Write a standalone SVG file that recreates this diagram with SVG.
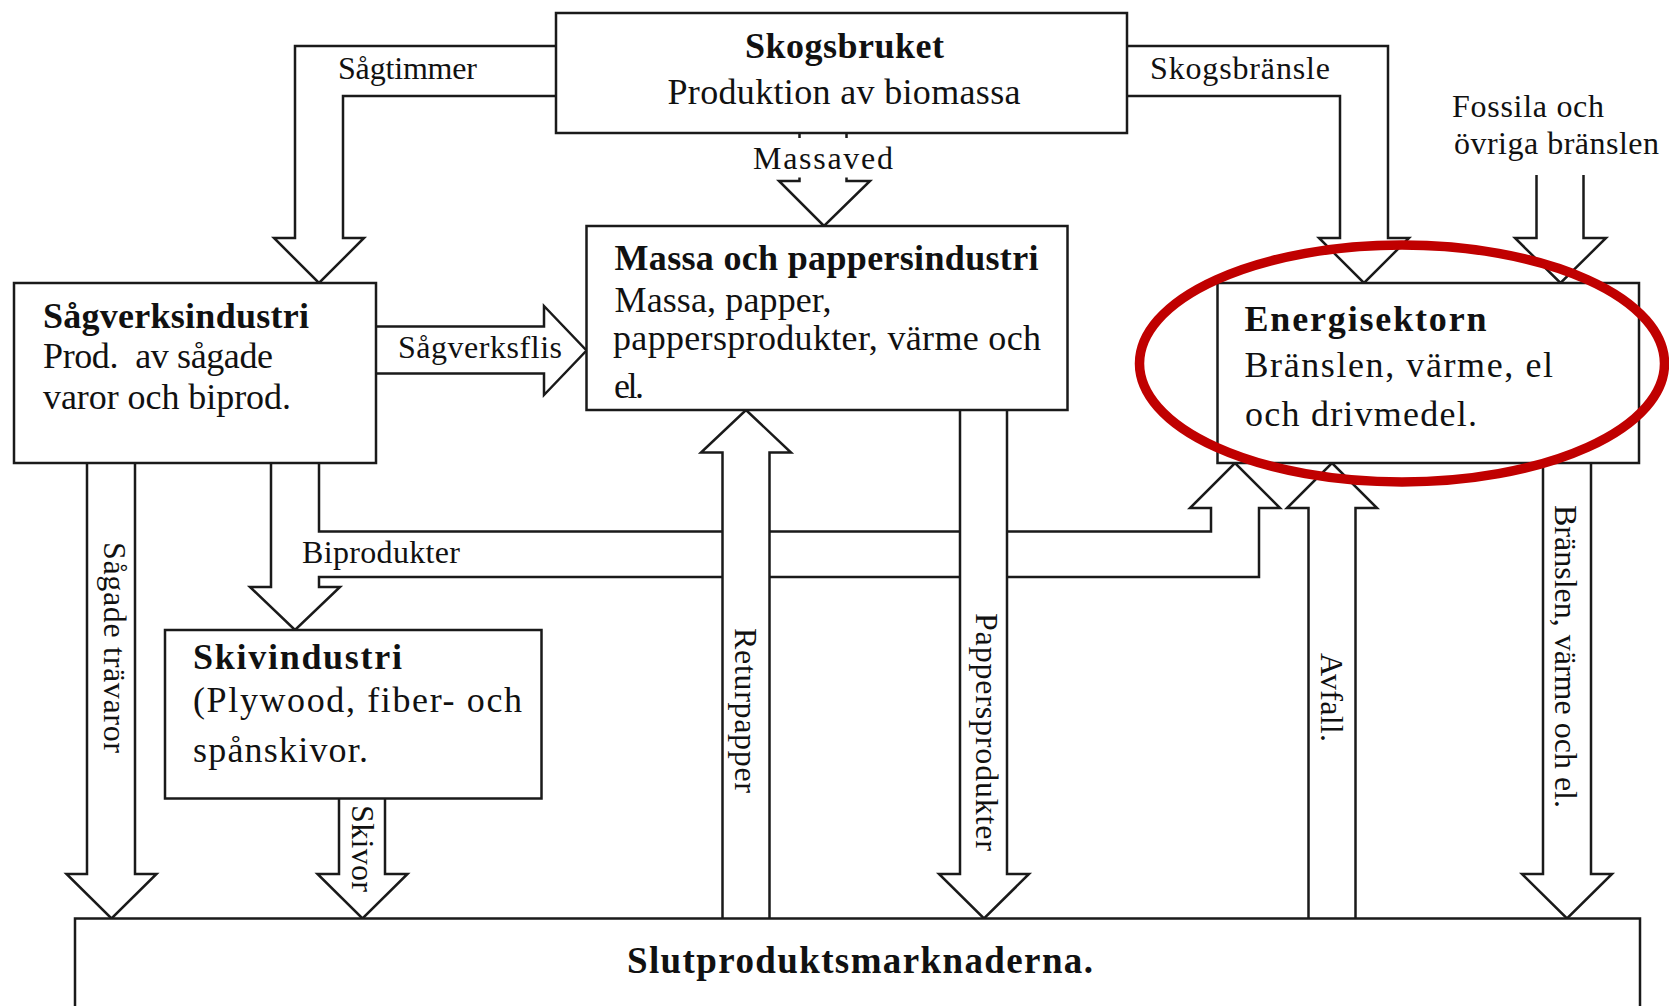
<svg xmlns="http://www.w3.org/2000/svg" width="1669" height="1006" viewBox="0 0 1669 1006">
<style>
.box{fill:#fff;stroke:#1a1a1a;stroke-width:2.5}
.arr{fill:#fff;stroke:#1a1a1a;stroke-width:2.5;stroke-linejoin:miter}
.stub{fill:none;stroke:#1a1a1a;stroke-width:2.5}
text{font-family:"Liberation Serif","Times New Roman",serif;fill:#111;white-space:pre}
.body{font-size:36px}
.title{font-size:36px;font-weight:bold}
.lbl{font-size:32px}
</style>
<rect width="1669" height="1006" fill="#fff"/>
<g id="connectors">
  <path id="c-sagtimmer" class="arr" d="M556,46 H295 V238 H274 L319,283 L364,238 H343 V96 H556"/>
  <path id="c-skogsbransle" class="arr" d="M1127,46 H1388 V238 H1409 L1364,283 L1319,238 H1340 V96 H1127"/>
  <path id="c-massaved-stub" class="stub" d="M799.5,133 V138 M846.5,133 V138"/>
  <path id="c-massaved" class="arr" d="M799.5,177.5 V181 H779 L824,226 L870,181 H846.5 V177.5"/>
  <path id="c-fossila" class="arr" d="M1536.5,175 V238 H1515 L1560.5,283 L1606,238 H1583.5 V175"/>
  <path id="c-sagverksflis" class="arr" d="M376,326.5 H544 V306 L586.5,350.5 L544,395 V373.5 H376"/>
  <path id="c-biprodukter" class="arr" d="M271,463 V587 H250 L295,630 L340,587 H319 V577 H1259 V508 H1280 L1235,463 L1190,508 H1211 V531.5 H319 V463"/>
  <path id="c-sagade" class="arr" d="M87,463 V874 H66.5 L111.5,918.5 L156.5,874 H135 V463"/>
  <path id="c-skivor" class="arr" d="M339,798.5 V874 H317.5 L362.5,918.5 L407.5,874 H385 V798.5"/>
  <path id="c-papper" class="arr" d="M960,410 V874 H939 L984,918.5 L1029,874 H1007 V410"/>
  <path id="c-bransle-ut" class="arr" d="M1543,463 V874 H1522 L1567,918.5 L1612,874 H1591 V463"/>
  <path id="c-returpapper" class="arr" d="M722.5,918.5 V452.5 H701 L746,410 L791,452.5 H769.5 V918.5"/>
  <path id="c-avfall" class="arr" d="M1308.5,918.5 V508 H1287 L1332,463 L1377,508 H1355.5 V918.5"/>
  <g id="connector-labels">
    <text class="lbl" x="338" y="79" textLength="139">Sågtimmer</text>
    <text class="lbl" x="1150" y="79" textLength="180">Skogsbränsle</text>
    <text class="lbl" x="753" y="168.5" textLength="140">Massaved</text>
    <text class="lbl" x="1452" y="117" textLength="152">Fossila och</text>
    <text class="lbl" x="1454" y="154" textLength="205">övriga bränslen</text>
    <text class="lbl" x="398" y="358" textLength="164">Sågverksflis</text>
    <text class="lbl" x="302" y="563" textLength="158">Biprodukter</text>
    <text class="lbl" transform="translate(103.5,542) rotate(90)" textLength="211">Sågade trävaror</text>
    <text class="lbl" transform="translate(352,805) rotate(90)" textLength="87">Skivor</text>
    <text class="lbl" transform="translate(735,628) rotate(90)" textLength="165">Returpapper</text>
    <text class="lbl" transform="translate(976,613) rotate(90)" textLength="238">Pappersprodukter</text>
    <text class="lbl" transform="translate(1321,653) rotate(90)" textLength="89">Avfall.</text>
    <text class="lbl" transform="translate(1555,505) rotate(90)" textLength="303">Bränslen, värme och el.</text>
  </g>
</g>
<g id="skogsbruket">
  <rect class="box" x="556" y="13" width="571" height="120"/>
  <text class="title" x="745" y="58" textLength="199">Skogsbruket</text>
  <text class="body" x="667.5" y="103.5" textLength="353">Produktion av biomassa</text>
</g>
<g id="sagverksindustri">
  <rect class="box" x="14" y="283" width="362" height="180"/>
  <text class="title" x="43" y="327.5" textLength="266">Sågverksindustri</text>
  <text class="body" x="43" y="368" textLength="230">Prod.  av sågade</text>
  <text class="body" x="43" y="409" textLength="248">varor och biprod.</text>
</g>
<g id="massa-pappersindustri">
  <rect class="box" x="586.5" y="226" width="481" height="184"/>
  <text class="title" x="614.5" y="270" textLength="424">Massa och pappersindustri</text>
  <text class="body" x="614.5" y="311.5" textLength="217">Massa, papper,</text>
  <text class="body" x="613" y="350" textLength="428">pappersprodukter, värme och</text>
  <text class="body" x="614" y="398" textLength="30">el.</text>
</g>
<g id="energisektorn">
  <rect class="box" x="1217.5" y="283" width="421.5" height="180"/>
  <text class="title" x="1244.5" y="331" textLength="242">Energisektorn</text>
  <text class="body" x="1244.5" y="376.5" textLength="308.5">Bränslen, värme, el</text>
  <text class="body" x="1245" y="426" textLength="232">och drivmedel.</text>
</g>
<g id="skivindustri">
  <rect class="box" x="165" y="630" width="376.5" height="168.5"/>
  <text class="title" x="193" y="668.5" textLength="209">Skivindustri</text>
  <text class="body" x="193" y="712" textLength="329">(Plywood, fiber- och</text>
  <text class="body" x="193" y="762" textLength="175">spånskivor.</text>
</g>
<g id="slutproduktsmarknaderna">
  <rect class="box" x="75" y="918.5" width="1565" height="100"/>
  <text class="title" style="font-size:37px" x="627" y="972.5" textLength="466">Slutproduktsmarknaderna.</text>
</g>
<g id="highlight">
  <ellipse cx="1402" cy="363.5" rx="262.5" ry="118.5" fill="none" stroke="#C00000" stroke-width="9.5"/>
</g>
</svg>
